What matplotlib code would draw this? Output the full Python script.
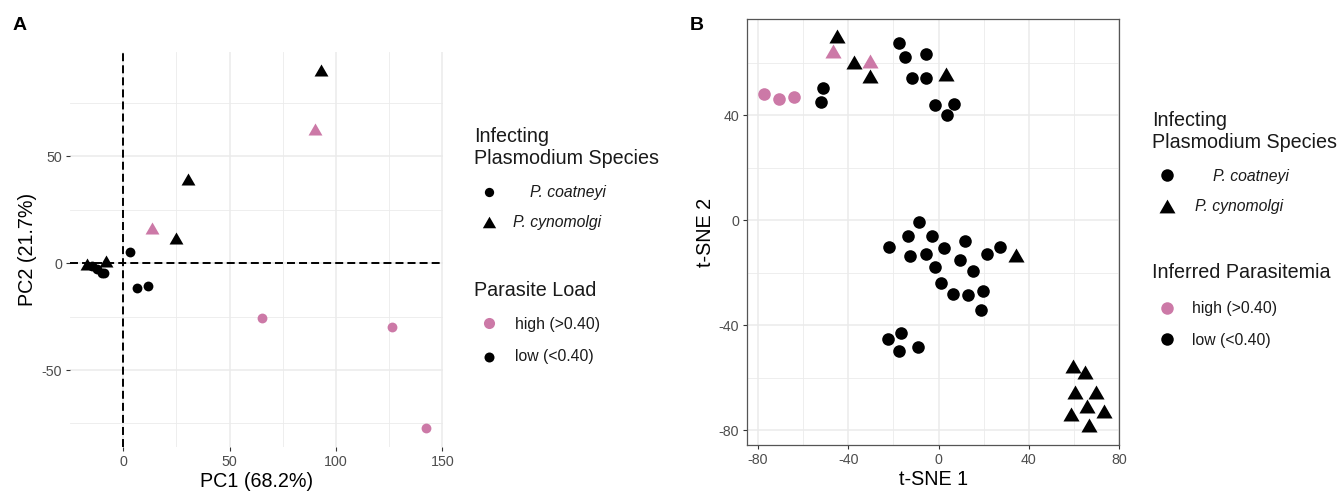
import matplotlib
matplotlib.use("Agg")
import matplotlib.pyplot as plt
from matplotlib.lines import Line2D
import numpy as np

plt.rcParams['font.family'] = ['Liberation Sans', 'DejaVu Sans']
plt.rcParams['axes.unicode_minus'] = False

# ---------------- data ----------------
# Panel A: PCA
pca_pc1 = [92.8, 90.2, 30.3, 13.6, 24.8, 3.1, 6.6, 11.7, 65.2, 126.3, 142.2,
           -16.9, -8.3, -14.5, -12.5, -9.8, -8.8]
pca_pc2 = [90.4, 62.9, 39.3, 16.6, 11.6, 5.0, -11.6, -10.9, -25.6, -29.8, -77.2,
           -0.5, 1.0, -1.5, -2.5, -4.7, -4.8]
pca_species = ['cyn', 'cyn', 'cyn', 'cyn', 'cyn', 'coa', 'coa', 'coa', 'coa', 'coa', 'coa',
               'cyn', 'cyn', 'coa', 'coa', 'coa', 'coa']
pca_load = ['low', 'high', 'low', 'high', 'low', 'low', 'low', 'low', 'high', 'high', 'high',
            'low', 'low', 'low', 'low', 'low', 'low']

# Panel B: t-SNE
tsne_x = [-77.1, -70.8, -64.2, -51.3, -51.9,
          -45.1, -46.6, -37.3, -30.2, -30.2, 3.2,
          -17.4, -15.0, -5.5, -11.8, -5.5, -1.8, 6.8, 3.7,
          -8.6, -13.7, -3.1, -22.0, -12.8, -5.6, 2.4, 11.5, 27.3, 21.4, 9.3, -1.8,
          15.3, 1.0, 6.2, 13.0, 19.8, 18.6,
          34.2,
          -22.4, -16.5, -17.4, -9.1,
          59.3, 64.6, 60.5, 69.6, 65.6, 73.3, 58.6, 66.4]
tsne_y = [47.9, 46.1, 46.9, 50.2, 45.1,
          70.1, 64.4, 60.1, 60.7, 54.9, 55.5,
          67.6, 62.0, 63.2, 54.0, 54.2, 43.7, 44.3, 39.9,
          -0.9, -6.0, -6.0, -10.3, -13.6, -12.8, -10.7, -8.0, -10.2, -13.1, -15.1, -18.0,
          -19.4, -24.1, -28.2, -28.7, -26.9, -34.3,
          -13.3,
          -45.3, -43.0, -49.8, -48.3,
          -55.5, -57.8, -65.4, -65.4, -70.9, -72.8, -73.9, -78.2]
tsne_species = (['coa'] * 5 + ['cyn'] * 6 + ['coa'] * 8 + ['coa'] * 18 + ['cyn']
                + ['coa'] * 4 + ['cyn'] * 8)
tsne_load = (['high'] * 3 + ['low'] * 2 + ['low', 'high', 'low', 'high', 'low', 'low']
             + ['low'] * 8 + ['low'] * 18 + ['low'] + ['low'] * 4 + ['low'] * 8)

species_labels = ['P. coatneyi', 'P. cynomolgi']
load_labels = ['high (>0.40)', 'low (<0.40)']

# ---------------- styling ----------------
W, H = 1340, 493
PINK = '#CC79A7'
BLACK = '#000000'
TRI = [(-1, -0.866), (1, -0.866), (0, 0.866)]
colors = {'high': PINK, 'low': BLACK}
markers = {'coa': 'o', 'cyn': TRI}

fig = plt.figure(figsize=(W / 100, H / 100), dpi=100)


def fx(px):
    return px / W


def fy(py):
    return 1 - py / H


def add_axes(l, t, r, b):
    return fig.add_axes([fx(l), fy(b), (r - l) / W, (b - t) / H])


def scatter_panel(ax, xs, ys, sp, ld, s_circ, s_tri):
    xs = np.asarray(xs)
    ys = np.asarray(ys)
    sp = np.asarray(sp)
    ld = np.asarray(ld)
    for spc in ['coa', 'cyn']:
        for lo in ['low', 'high']:
            m = (sp == spc) & (ld == lo)
            if m.any():
                ax.scatter(xs[m], ys[m], marker=markers[spc], c=colors[lo],
                           s=s_circ if spc == 'coa' else s_tri,
                           linewidths=0, zorder=3)


TICK_COLOR = '#4D4D4D'

# ---------------- Panel A ----------------
axA = add_axes(70, 52, 443, 447)
scatter_panel(axA, pca_pc1, pca_pc2, pca_species, pca_load, 50, 100)
axA.axvline(0, color='black', lw=1.4, ls=(0, (4.1, 2.1)), zorder=2)
axA.axhline(0, color='black', lw=1.4, ls=(0, (4.1, 2.1)), zorder=2)
axA.set_xlim(-25, 150.3)
axA.set_ylim(-86, 98.8)
axA.set_xticks([0, 50, 100, 150])
axA.set_yticks([-50, 0, 50])
axA.set_xticks([25, 75, 125], minor=True)
axA.set_yticks([-75, -25, 25, 75], minor=True)
axA.grid(True, which='major', color='#EBEBEB', lw=1.1, zorder=0)
axA.grid(True, which='minor', color='#EBEBEB', lw=0.6, zorder=0)
axA.set_axisbelow(True)
for sp in axA.spines.values():
    sp.set_visible(False)
axA.tick_params(axis='both', which='major', length=2.8, width=0.8, color='#333333',
                labelsize=10.3, labelcolor=TICK_COLOR, pad=3)
axA.tick_params(axis='both', which='minor', length=0)
axA.set_xlabel('PC1 (68.2%)', fontsize=14.2, labelpad=2)
axA.set_ylabel('PC2 (21.7%)', fontsize=14.2, labelpad=3)

# ---------------- Panel B ----------------
axB = add_axes(747.3, 19, 1119.3, 445)
scatter_panel(axB, tsne_x, tsne_y, tsne_species, tsne_load, 82, 135)
axB.set_xlim(-84.7, 80)
axB.set_ylim(-85.7, 76.6)
axB.set_xticks([-80, -40, 0, 40, 80])
axB.set_yticks([-80, -40, 0, 40])
axB.set_xticks([-60, -20, 20, 60], minor=True)
axB.set_yticks([-60, -20, 20, 60], minor=True)
axB.grid(True, which='major', color='#EBEBEB', lw=1.1, zorder=0)
axB.grid(True, which='minor', color='#EBEBEB', lw=0.6, zorder=0)
axB.set_axisbelow(True)
for sp in axB.spines.values():
    sp.set_color('#555555')
    sp.set_linewidth(0.9)
axB.tick_params(axis='both', which='major', length=2.8, width=0.8, color='#333333',
                labelsize=10.3, labelcolor=TICK_COLOR, pad=3)
axB.tick_params(axis='both', which='minor', length=0)
axB.set_xlabel('t-SNE 1', fontsize=14.2, labelpad=2)
axB.set_ylabel('t-SNE 2', fontsize=14.2, labelpad=3)

# ---------------- panel tags ----------------
fig.text(fx(19.5), fy(26), 'A', fontsize=14, fontweight='bold', ha='center', va='center')
fig.text(fx(697), fy(26), 'B', fontsize=14, fontweight='bold', ha='center', va='center')


# ---------------- legends ----------------
def key(px, py, marker, color, ms):
    fig.add_artist(Line2D([fx(px)], [fy(py)], transform=fig.transFigure,
                          marker=marker, color=color, markersize=ms, lw=0,
                          markeredgewidth=0))


def txt(px, py, s, size, style='normal'):
    fig.text(fx(px), fy(py), s, fontsize=size, style=style, ha='left', va='center',
             color='#1A1A1A')


# Panel A legend
txt(474, 137, 'Infecting', 14.2)
txt(474, 159, 'Plasmodium Species', 14.2)
key(489, 192, 'o', BLACK, 6.7)
txt(530, 192, species_labels[0], 11.3, 'italic')
key(489, 222, TRI, BLACK, 9.6)
txt(513, 223, species_labels[1], 11.3, 'italic')
txt(474, 290, 'Parasite Load', 14.2)
key(489, 323, 'o', PINK, 8.0)
txt(515, 324, load_labels[0], 11.3)
key(489, 357, 'o', BLACK, 7.2)
txt(515, 357, load_labels[1], 11.3)

# Panel B legend
txt(1152, 120, 'Infecting', 14.2)
txt(1152, 142, 'Plasmodium Species', 14.2)
key(1167, 175, 'o', BLACK, 9.0)
txt(1213, 176, species_labels[0], 11.3, 'italic')
key(1167, 206, TRI, BLACK, 11.5)
txt(1195, 207, species_labels[1], 11.3, 'italic')
txt(1152, 273, 'Inferred Parasitemia', 14.2)
key(1167, 308, 'o', PINK, 9.0)
txt(1192, 309, load_labels[0], 11.3)
key(1167, 339, 'o', BLACK, 9.0)
txt(1192, 340, load_labels[1], 11.3)

fig.savefig('out.png', dpi=100)
